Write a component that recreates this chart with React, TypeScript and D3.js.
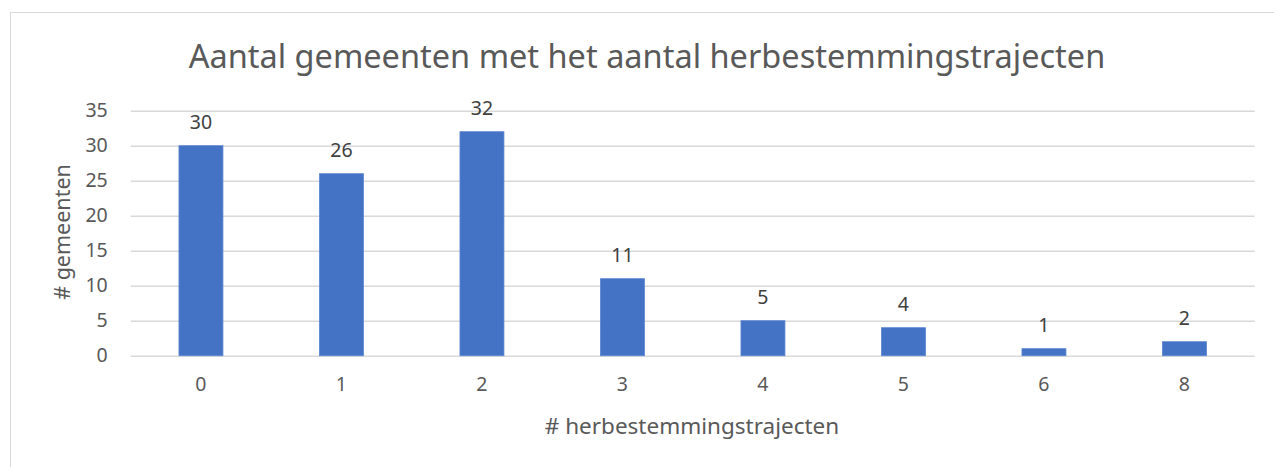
import { useEffect, useRef } from "react"
import { select, scaleBand, scaleLinear, axisLeft, axisBottom } from "d3"

const categories = ["0", "1", "2", "3", "4", "5", "6", "8"]
const values = [30, 26, 32, 11, 5, 4, 1, 2]
const yTicks = [0, 5, 10, 15, 20, 25, 30, 35]

const W = 1274
const H = 467
const FONT = "'Noto Sans', 'Open Sans', sans-serif"

const App = () => {
    const svgRef = useRef<SVGSVGElement>(null)

    useEffect(() => {
        const svgEl = select(svgRef.current)
        svgEl.selectAll("*").remove()

        const x = scaleBand<string>()
            .domain(categories)
            .range([130.7, 1254.7])
            .paddingInner(0.687)
            .paddingOuter(0.3435)
        const y = scaleLinear().domain([0, 35]).range([355.7, 110.7])

        // frame
        svgEl.append("rect")
            .attr("x", 10.5).attr("y", 12.5)
            .attr("width", W).attr("height", H)
            .attr("fill", "#fff").attr("stroke", "#d9d9d9")

        // gridlines + y labels
        const yAxis = axisLeft(y).tickValues(yTicks).tickSize(-(1254.7 - 130.7)).tickPadding(23)
        const yg = svgEl.append("g").attr("transform", "translate(130.7,0)").call(yAxis)
        yg.select(".domain").remove()
        yg.selectAll("line").attr("stroke", "#d9d9d9").attr("stroke-width", 1.5)
        yg.selectAll("text").attr("fill", "#595959").style("font-size", "19.5px").style("font-family", FONT)

        // x labels
        const xAxis = axisBottom(x).tickSize(0).tickPadding(21)
        const xg = svgEl.append("g").attr("transform", "translate(0,355.7)").call(xAxis)
        xg.select(".domain").remove()
        xg.selectAll("text").attr("fill", "#595959").style("font-size", "19.5px").style("font-family", FONT)

        // bars
        svgEl.selectAll(".bar")
            .data(values)
            .enter()
            .append("rect")
            .attr("x", (_, i) => x(categories[i])!)
            .attr("y", (d) => y(d))
            .attr("width", x.bandwidth())
            .attr("height", (d) => y(0) - y(d))
            .attr("fill", "#4472c4")
            .attr("stroke", "#5b86d2")
            .attr("stroke-width", 0.8)

        // data labels
        svgEl.selectAll(".lbl")
            .data(values)
            .enter()
            .append("text")
            .attr("x", (_, i) => x(categories[i])! + x.bandwidth() / 2)
            .attr("y", (d) => y(d) - 17)
            .attr("text-anchor", "middle")
            .attr("fill", "#404040")
            .style("font-size", "19.5px")
            .style("font-family", FONT)
            .text((d) => d)

        // title
        svgEl.append("text")
            .attr("x", 647).attr("y", 68)
            .attr("text-anchor", "middle")
            .attr("fill", "#595959")
            .style("font-size", "32.5px")
            .style("font-family", FONT)
            .text("Aantal gemeenten met het aantal herbestemmingstrajecten")

        // axis titles
        svgEl.append("text")
            .attr("x", 692).attr("y", 434)
            .attr("text-anchor", "middle")
            .attr("fill", "#595959")
            .style("font-size", "22.5px")
            .style("font-family", FONT)
            .text("# herbestemmingstrajecten")

        svgEl.append("text")
            .attr("transform", "translate(70,232) rotate(-90)")
            .attr("text-anchor", "middle")
            .attr("fill", "#595959")
            .style("font-size", "21.5px")
            .style("font-family", FONT)
            .text("# gemeenten")
    }, [])

    return (
        <svg
            ref={svgRef}
            width={W}
            height={H}
            style={{ position: "absolute", left: 0, top: 0 }}
        ></svg>
    )
}
export default App
